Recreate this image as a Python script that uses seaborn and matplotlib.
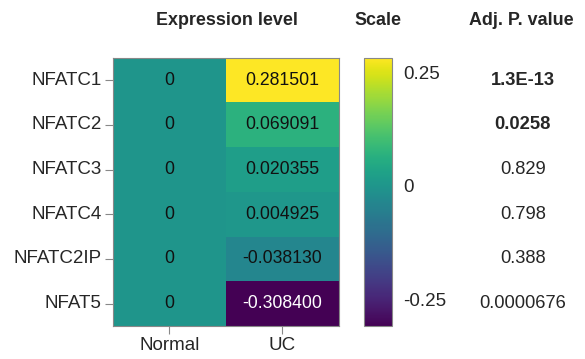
import matplotlib
matplotlib.use("Agg")
import matplotlib.pyplot as plt
import seaborn as sns
import numpy as np
import pandas as pd

genes = ["NFATC1", "NFATC2", "NFATC3", "NFATC4", "NFATC2IP", "NFAT5"]
groups = ["Normal", "UC"]
normal_vals = [0, 0, 0, 0, 0, 0]
uc_vals = [0.281501, 0.069091, 0.020355, 0.004925, -0.038130, -0.308400]
pvals = ["1.3E-13", "0.0258", "0.829", "0.798", "0.388", "0.0000676"]
p_bold = [True, True, False, False, False, False]
cbar_ticks = [0.25, 0, -0.25]
cbar_ticklabels = ["0.25", "0", "-0.25"]

sns.set_theme(style="white")
plt.rcParams["font.family"] = ["Liberation Sans", "DejaVu Sans"]

df = pd.DataFrame({"Normal": normal_vals, "UC": uc_vals}, index=genes)
labels = pd.DataFrame({
    "Normal": ["0" for _ in normal_vals],
    "UC": [f"{v:.6f}" for v in uc_vals],
}, index=genes)

fig = plt.figure(figsize=(5.85, 3.59), dpi=100)
ax = fig.add_axes([0.193, 0.092, 0.386, 0.747])
cax = fig.add_axes([0.622, 0.092, 0.048, 0.747])

sns.heatmap(df, ax=ax, cbar_ax=cax, cmap="viridis",
            vmin=min(uc_vals), vmax=max(uc_vals),
            annot=labels.values, fmt="",
            annot_kws={"fontsize": 12.7, "color": "#111111"})

# white text on the darkest cell
for t, v in zip(ax.texts, np.array(df.values).ravel()):
    t.set_color("white" if v < -0.2 else "#111111")

grey = "#888888"
for side in ["left", "right", "top", "bottom"]:
    ax.spines[side].set_visible(True)
    ax.spines[side].set_color(grey)
    ax.spines[side].set_linewidth(0.8)
ax.tick_params(axis="both", length=6, width=0.8, color=grey, labelsize=13.5,
               left=True, bottom=True, pad=2)
ax.set_yticklabels(genes, rotation=0, fontsize=13.5)
ax.set_xticklabels(groups, rotation=0, fontsize=13.5)
ax.set_xlabel("")
ax.set_ylabel("")

cb = ax.collections[0].colorbar
cb.set_ticks(cbar_ticks)
cb.set_ticklabels(cbar_ticklabels)
cb.outline.set_visible(True)
cb.outline.set_edgecolor(grey)
cb.outline.set_linewidth(0.8)
cax.tick_params(axis="y", direction="in", length=4, width=0.8, color=grey,
                left=True, right=True, labelsize=13.5, pad=8)

fig.text(0.388, 0.944, "Expression level", ha="center", va="center",
         fontsize=12.9, fontweight="bold")
fig.text(0.646, 0.944, "Scale", ha="center", va="center",
         fontsize=12.9, fontweight="bold")
fig.text(0.891, 0.944, "Adj. P. value", ha="center", va="center",
         fontsize=12.9, fontweight="bold")

# adjusted p-values aligned with heatmap rows
for i, (p, b) in enumerate(zip(pvals, p_bold)):
    x_disp, y_disp = ax.transData.transform((0, i + 0.5))
    _, y_fig = fig.transFigure.inverted().transform((x_disp, y_disp))
    fig.text(0.894, y_fig, p, ha="center", va="center", fontsize=13.2,
             fontweight="bold" if b else "normal")

fig.savefig("out.png", dpi=100)
